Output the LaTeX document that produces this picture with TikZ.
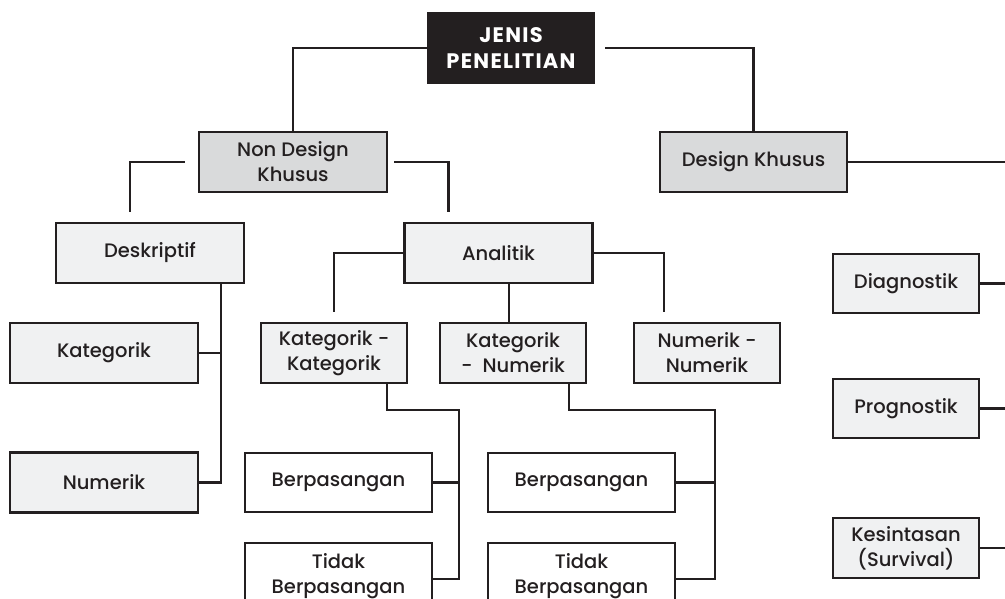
\documentclass[tikz,border=0pt]{standalone}
\usepackage{fontspec}
\setmainfont{Poppins}[UprightFont={* Medium}, BoldFont={* Bold}]
\usetikzlibrary{positioning}

\definecolor{ink}{HTML}{231F20}
\definecolor{leaf}{HTML}{F0F1F2}
\definecolor{mid}{HTML}{D9DADB}

\tikzset{
  box/.style={draw=ink, line width=2.2pt, fill=leaf, text=ink, align=center,
    inner sep=0pt, font=\fontsize{19.5}{25}\selectfont},
  midbox/.style={box, fill=mid},
  pairbox/.style={box, fill=white},
  topbox/.style={box, fill=ink, text=white,
    font=\fontsize{21}{26}\selectfont\bfseries\addfontfeatures{LetterSpace=6}},
  link/.style={draw=ink, line width=2.2pt}
}

\begin{document}
\begin{tikzpicture}[x=1pt,y=-1pt]
\useasboundingbox (0,0) rectangle (1005,599);

% top and second level
\node[topbox, minimum width=166pt, minimum height=70pt] (jenis) at (511,48) {JENIS\\PENELITIAN};
\node[midbox, minimum width=188pt, minimum height=60pt] (nondesign) at (293,162) {Non Design\\Khusus};
\node[midbox, minimum width=187pt, minimum height=60pt] (design) at (753.5,162) {Design Khusus};

% non design khusus branch
\node[box, minimum width=188pt, minimum height=60pt] (deskriptif) at (150,253) {Deskriptif};
\node[box, minimum width=188pt, minimum height=60pt] (analitik) at (498.5,253) {Analitik};
\node[box, minimum width=188pt, minimum height=60pt] (kategorik) at (104,353) {Kategorik};
\node[box, minimum width=188pt, minimum height=60pt] (numerik) at (104,482.5) {Numerik};
\node[box, minimum width=146pt, minimum height=60pt] (katkat) at (334,353) {Kategorik -\\Kategorik};
\node[box, minimum width=146pt, minimum height=60pt] (katnum) at (513,353) {Kategorik\\-\ \ Numerik};
\node[box, minimum width=146pt, minimum height=60pt] (numnum) at (707,353) {Numerik -\\Numerik};

\node[pairbox, minimum width=187pt, minimum height=59pt] (berpA) at (338.5,482.5) {Berpasangan};
\node[pairbox, minimum width=187pt, minimum height=66pt] (tidakA) at (338.5,576) {Tidak\\Berpasangan};
\node[pairbox, minimum width=187pt, minimum height=59pt] (berpB) at (581.5,482.5) {Berpasangan};
\node[pairbox, minimum width=187pt, minimum height=66pt] (tidakB) at (581.5,576) {Tidak\\Berpasangan};

% design khusus branch
\node[box, minimum width=146pt, minimum height=59pt] (diagnostik) at (906,283.5) {Diagnostik};
\node[box, minimum width=146pt, minimum height=59pt] (prognostik) at (906,408.5) {Prognostik};
\node[box, minimum width=146pt, minimum height=60pt] (kesintasan) at (906,548) {Kesintasan\\(Survival)};

\coordinate (edge) at (1005,0);
\coordinate (dspine) at ([xshift=71pt]deskriptif.south);
\coordinate (spineA) at ([xshift=26pt,yshift=-3pt]tidakA.east);
\coordinate (spineB) at ([xshift=39pt,yshift=-3pt]tidakB.east);

% connectors
\draw[link] (jenis.west) -| (nondesign.north);
\draw[link] ([xshift=10pt]jenis.east) -| (design.north);
\draw[link] ([xshift=-13pt]nondesign.west) -| ([xshift=-20pt,yshift=10pt]deskriptif.north);
\draw[link] ([xshift=6pt]nondesign.east) -| ([xshift=-50pt,yshift=10pt]analitik.north);
\draw[link] (design.east) -- (design.east -| edge);

\draw[link] (dspine) |- (numerik.east);
\draw[link] (kategorik.east) -- (kategorik.east -| dspine);

\draw[link] (analitik.west) -| ([yshift=10pt]katkat.north);
\draw[link] (analitik.east) -| ([xshift=-43pt,yshift=10pt]numnum.north);
\draw[link] (analitik.south -| katnum.north) ++(-4pt,0) -- ([xshift=-4pt]katnum.north);

\draw[link] ([xshift=53pt]katkat.south) -- ++(0,26) -| (spineA) -- (spineA -| tidakA.east);
\draw[link] (berpA.east) -- (berpA.east -| spineA);
\draw[link] ([xshift=56pt]katnum.south) -- ++(0,26) -| (spineB) -- (spineB -| tidakB.east);
\draw[link] (berpB.east) -- (berpB.east -| spineB);

\draw[link] (diagnostik.east) -- (diagnostik.east -| edge);
\draw[link] (prognostik.east) -- (prognostik.east -| edge);
\draw[link] (kesintasan.east) -- (kesintasan.east -| edge);
\end{tikzpicture}
\end{document}
